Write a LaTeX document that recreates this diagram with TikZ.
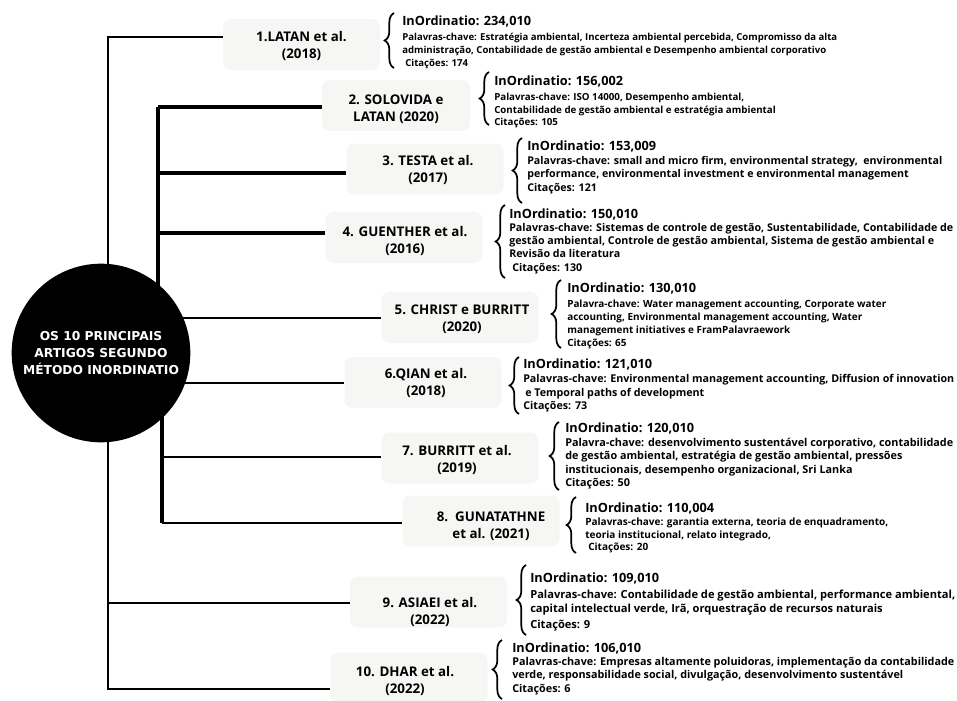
\documentclass[tikz,border=0pt]{standalone}
\usepackage{fontspec}
\usepackage{graphicx}
\setmainfont{Open Sans}
\newfontfamily\circfont{DejaVu Sans}
\usetikzlibrary{decorations.pathreplacing}
\definecolor{boxfill}{RGB}{246,246,244}
% font size (pt) that makes #3 exactly #2 px wide
\newsavebox\fitbox
\newcommand\fitfont[3]{\sbox\fitbox{\fontsize{10pt}{12pt}\selectfont\bfseries #3}\pgfmathsetmacro#1{7.5*#2/\the\wd\fitbox}}
\AtBeginDocument{%
\fitfont{\hA}{129}{InOrdinatio: 153,009}%
\fitfont{\sA}{435}{Palavras-chave: Estratégia ambiental, Incerteza ambiental percebida, Compromisso da alta}%
\fitfont{\sB}{250}{Palavras-chave: ISO 14000, Desempenho ambiental,}%
\fitfont{\sC}{415}{Palavras-chave: small and micro firm, environmental strategy,\ \ environmental}%
\fitfont{\sD}{444}{Palavras-chave: Sistemas de controle de gestão, Sustentabilidade, Contabilidade de}%
\fitfont{\sE}{319}{Palavra-chave: Water management accounting, Corporate water}%
\fitfont{\sF}{431}{Palavras-chave: Environmental management accounting, Diffusion of innovation}%
\fitfont{\sG}{388}{Palavra-chave: desenvolvimento sustentável corporativo, contabilidade}%
\fitfont{\sH}{303}{Palavras-chave: garantia externa, teoria de enquadramento,}%
\fitfont{\sI}{425}{Palavras-chave: Contabilidade de gestão ambiental, performance ambiental,}%
\fitfont{\sJ}{442}{Palavras-chave: Empresas altamente poluidoras, implementação da contabilidade}%
}
\tikzset{
  x=0.75pt, y=-0.75pt,
  artbox/.style={fill=boxfill, rounded corners=6pt, inner sep=0pt,
    minimum width=117.75pt, minimum height=38.25pt},
  boxtext/.style={align=center, inner sep=0pt,
    font=\fontsize{10pt}{12.75pt}\selectfont\bfseries},
  hubnode/.style={circle, fill=black, minimum size=134pt, inner sep=0pt,
    text=white, align=center, font=\circfont\fontsize{9.2pt}{13.1pt}\selectfont\bfseries},
  outerline/.style={line width=1.6pt, line join=miter},
  innerv/.style={line width=2.8pt},
  innerh/.style={line width=2.4pt},
  thinh/.style={line width=1.6pt},
  bracestyle/.style={decorate, decoration={brace, amplitude=7pt}, line width=1.3pt},
  hd/.style={anchor=base west, inner sep=0pt, font=\fontsize{\hA pt}{11pt}\selectfont\bfseries},
  kw/.style={anchor=base west, inner sep=0pt, font=\fontsize{#1 pt}{8pt}\selectfont\bfseries},
}
\begin{document}
\begin{tikzpicture}
\useasboundingbox (0,0) rectangle (957,700);
% boxes
\node[artbox] (b1) at (301.5,44.5) {};
\node[artbox, minimum width=111pt] (b2) at (396,105.5) {};
\node[artbox] (b3) at (425,169) {};
\node[artbox] (b4) at (404,237.5) {};
\node[artbox] (b5) at (460,317.5) {};
\node[artbox] (b6) at (423,382.5) {};
\node[artbox] (b7) at (460,458) {};
\node[artbox] (b8) at (481,521) {};
\node[artbox] (b9) at (428.5,602) {};
\node[artbox] (b10) at (409,678) {};
% box texts
\node[boxtext] (t1) at (301.5,45.5) {1.LATAN et al.\\(2018)};
\node[boxtext] (t2) at (396,109) {2. SOLOVIDA e\\LATAN (2020)};
\node[boxtext] (t3) at (428,169.5) {3. TESTA et al.\\(2017)};
\node[boxtext] (t4) at (405,241) {4. GUENTHER et al.\\(2016)};
\node[boxtext] (t5) at (462,319) {5. CHRIST e BURRITT\\(2020)};
\node[boxtext] (t6) at (426,383) {6.QIAN et al.\\(2018)};
\node[boxtext] (t7) at (457,460) {7. BURRITT et al.\\(2019)};
\node[boxtext] (t8) at (491,526) {8.\ \ GUNATATHNE\\et al. (2021)};
\node[boxtext] (t9) at (430,612) {9. ASIAEI et al.\\(2022)};
\node[boxtext] (t10) at (405,681) {10. DHAR et al.\\(2022)};
% connector coordinates
\coordinate (oT) at (108,37);
\coordinate (oB) at (108,689);
\coordinate (o9) at (108,603);
\coordinate (iT) at (158,107);
\coordinate (i3) at (158,173);
\coordinate (i4) at (158,233);
\coordinate (iM) at (158,353);
\coordinate (jM) at (162,353);
\coordinate (j7) at (162,457);
\coordinate (iB) at (162,523);
\coordinate (h5) at (101,318);
\coordinate (h6) at (101,383);
% connectors
\draw[outerline] (oT -| b1.west) -- (oT) -- (oB) -- (oB -| b10.west);
\draw[thinh] (o9) -- (o9 -| b9.west);
\draw[innerv] (iT) -- (iM);
\draw[innerv] (jM) -- (iB);
\draw[innerh] (iT) -- (iT -| b2.west);
\draw[innerh] (i3) -- (i3 -| b3.west);
\draw[innerh] (i4) -- (i4 -| b4.west);
\draw[thinh] (h5) -- (h5 -| b5.west);
\draw[thinh] (h6) -- (h6 -| b6.west);
\draw[thinh] (j7) -- (j7 -| b7.west);
\draw[thinh] (iB) -- (iB -| b8.west);
% hub
\node[hubnode] (hub) at (101,353) {OS 10 PRINCIPAIS\\ARTIGOS SEGUNDO\\MÉTODO INORDINATIO};
% braces
\draw[bracestyle] (394,68) -- (394,13);
\draw[bracestyle] (489,125) -- (489,72);
\draw[bracestyle] (522,203) -- (522,138);
\draw[bracestyle] (505,278) -- (505,205);
\draw[bracestyle] (561,348) -- (561,280);
\draw[bracestyle] (519,414) -- (519,357);
\draw[bracestyle] (559,490) -- (559,422);
\draw[bracestyle] (576,553) -- (576,497);
\draw[bracestyle] (526,635) -- (526,565);
\draw[bracestyle] (502,699) -- (502,640);
% item 1
\node[hd] (h1) at (402,25) {InOrdinatio: 234,010};
\node[kw=\sA] (k1a) at (402,40) {Palavras-chave: Estratégia ambiental, Incerteza ambiental percebida, Compromisso da alta};
\node[kw=\sA] (k1b) at (402,53) {administração, Contabilidade de gestão ambiental e Desempenho ambiental corporativo};
\node[kw=\sA] (k1c) at (405,66) {Citações: 174};
% item 2
\node[hd] (h2) at (494,85) {InOrdinatio: 156,002};
\node[kw=\sB] (k2a) at (494,100) {Palavras-chave: ISO 14000, Desempenho ambiental,};
\node[kw=\sB] (k2b) at (494,113) {Contabilidade de gestão ambiental e estratégia ambiental};
\node[kw=\sB] (k2c) at (494,125) {Citações: 105};
% item 3
\node[hd] (h3) at (527,150) {InOrdinatio: 153,009};
\node[kw=\sC] (k3a) at (527,164) {Palavras-chave: small and micro firm, environmental strategy,\ \ environmental};
\node[kw=\sC] (k3b) at (527,177) {performance, environmental investment e environmental management};
\node[kw=\sC] (k3c) at (527,191) {Citações: 121};
% item 4
\node[hd] (h4) at (509,218) {InOrdinatio: 150,010};
\node[kw=\sD] (k4a) at (509,231) {Palavras-chave: Sistemas de controle de gestão, Sustentabilidade, Contabilidade de};
\node[kw=\sD] (k4b) at (509,244) {gestão ambiental, Controle de gestão ambiental, Sistema de gestão ambiental e};
\node[kw=\sD] (k4c) at (509,257) {Revisão da literatura};
\node[kw=\sD] (k4d) at (512,271) {Citações: 130};
% item 5
\node[hd] (h5t) at (567,292) {InOrdinatio: 130,010};
\node[kw=\sE] (k5a) at (567,307) {Palavra-chave: Water management accounting, Corporate water};
\node[kw=\sE] (k5b) at (567,320) {accounting, Environmental management accounting, Water};
\node[kw=\sE] (k5c) at (567,333) {management initiatives e FramPalavraework};
\node[kw=\sE] (k5d) at (567,346) {Citações: 65};
% item 6
\node[hd] (h6t) at (523,368) {InOrdinatio: 121,010};
\node[kw=\sF] (k6a) at (523,382) {Palavras-chave: Environmental management accounting, Diffusion of innovation};
\node[kw=\sF] (k6b) at (525,396) {e Temporal paths of development};
\node[kw=\sF] (k6c) at (523,409) {Citações: 73};
% item 7
\node[hd] (h7) at (565,432) {InOrdinatio: 120,010};
\node[kw=\sG] (k7a) at (565,446) {Palavra-chave: desenvolvimento sustentável corporativo, contabilidade};
\node[kw=\sG] (k7b) at (565,459) {de gestão ambiental, estratégia de gestão ambiental, pressões};
\node[kw=\sG] (k7c) at (565,473) {institucionais, desempenho organizacional, Sri Lanka};
\node[kw=\sG] (k7d) at (565,486) {Citações: 50};
% item 8
\node[hd] (h8) at (585,512) {InOrdinatio: 110,004};
\node[kw=\sH] (k8a) at (585,525) {Palavras-chave: garantia externa, teoria de enquadramento,};
\node[kw=\sH] (k8b) at (585,538) {teoria institucional, relato integrado,};
\node[kw=\sH] (k8c) at (588,550) {Citações: 20};
% item 9
\node[hd] (h9) at (530,582) {InOrdinatio: 109,010};
\node[kw=\sI] (k9a) at (530,598) {Palavras-chave: Contabilidade de gestão ambiental, performance ambiental,};
\node[kw=\sI] (k9b) at (530,612) {capital intelectual verde, Irã, orquestração de recursos naturais};
\node[kw=\sI] (k9c) at (530,628) {Citações: 9};
% item 10
\node[hd] (h10) at (512,652) {InOrdinatio: 106,010};
\node[kw=\sJ] (k10a) at (512,665) {Palavras-chave: Empresas altamente poluidoras, implementação da contabilidade};
\node[kw=\sJ] (k10b) at (512,678) {verde, responsabilidade social, divulgação, desenvolvimento sustentável};
\node[kw=\sJ] (k10c) at (512,692) {Citações: 6};
\end{tikzpicture}
\end{document}
